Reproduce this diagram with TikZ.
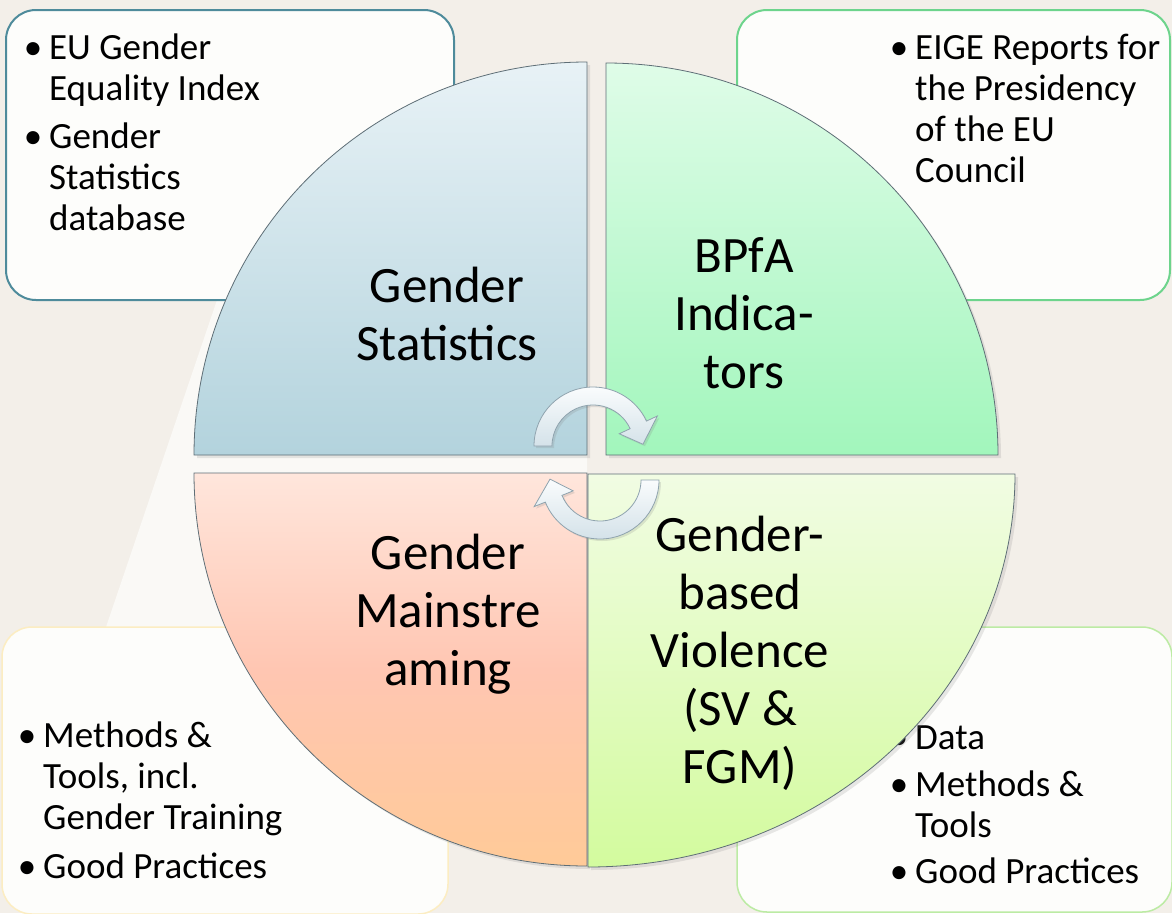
\documentclass[tikz,border=0pt]{standalone}
\usepackage{fontspec}
\setmainfont{Carlito}
\usetikzlibrary{shadows}

\definecolor{bg}{HTML}{F3EFE9}
\definecolor{bgband}{HTML}{FAF9F6}
\definecolor{boxfill}{HTML}{FDFDFB}
\definecolor{tealline}{HTML}{4E8B9B}
\definecolor{mintline}{HTML}{6DD48C}
\definecolor{sandline}{HTML}{FCEDC2}
\definecolor{limeline}{HTML}{BCEBA4}
\definecolor{statstop}{HTML}{E8F2F6}
\definecolor{statsbot}{HTML}{B3D3DD}
\definecolor{bpfatop}{HTML}{DFFCE8}
\definecolor{bpfabot}{HTML}{A2F6BC}
\definecolor{gmtop}{HTML}{FFE6DC}
\definecolor{gmmid}{HTML}{FFC6B2}
\definecolor{gmbot}{HTML}{FFCA98}
\definecolor{gbvtop}{HTML}{F1FCE3}
\definecolor{gbvbot}{HTML}{D3FB9E}
\definecolor{quadline}{HTML}{5E6E76}
\definecolor{arrowtop}{HTML}{FAFCFD}
\definecolor{arrowbot}{HTML}{D4E2E9}
\definecolor{arrowline}{HTML}{8FA3AE}

\newcommand{\itembul}{\llap{\makebox[0pt][c]{•}\hspace{16pt}}}

\tikzset{
  infobox/.style={fill=boxfill, rounded corners=30pt, line width=2pt},
  listtext/.style={inner sep=0pt, anchor=base west, align=left, font=\fontsize{37}{41}\selectfont},
  quadlabel/.style={inner sep=0pt, anchor=base, align=center, font=\fontsize{51}{58}\selectfont},
  quadrant/.style={draw=quadline, line width=0.8pt,
    drop shadow={shadow xshift=3pt, shadow yshift=-3pt, opacity=0.18}},
  turnarrow/.style={draw=arrowline, line width=0.8pt, top color=arrowtop, bottom color=arrowbot,
    drop shadow={shadow xshift=2pt, shadow yshift=-2pt, opacity=0.2}}
}

\begin{document}
\begin{tikzpicture}[x=1pt, y=-1pt]
  % page and background
  \fill[bg] (0,0) rectangle (1172,913);
  \useasboundingbox (0,0) rectangle (1172,913);
  \fill[bgband] (217,300) -- (587,300) -- (587,630) -- (105,630) -- cycle;

  % side boxes (text nodes sit on their last baseline)
  \draw[infobox, draw=tealline] (6,10) rectangle (454,300);
  \draw[infobox, draw=mintline] (737,10) rectangle (1170,300);
  \draw[infobox, draw=sandline, line width=1.5pt] (2,627) rectangle (448,914);
  \draw[infobox, draw=limeline, line width=1.5pt] (737,627) rectangle (1172,912);

  \node[listtext] (statslist) at (49,230) {\itembul EU Gender\\ Equality Index\\[7pt] \itembul Gender\\ Statistics\\ database};
  \node[listtext] (bpfalist) at (915,182) {\itembul EIGE Reports for\\ the Presidency\\ of the EU\\ Council};
  \node[listtext] (mainstrlist) at (43,878) {\itembul Methods \&\\ Tools, incl.\\ Gender Training\\[8pt] \itembul Good Practices};
  \node[listtext] (gbvlist) at (915,883) {\itembul Data\\[6pt] \itembul Methods \&\\ Tools\\[5pt] \itembul Good Practices};

  % four quarters
  \path[quadrant, top color=statstop, bottom color=statsbot]
    (587,455) -- (194,455) arc[start angle=180, end angle=270, radius=393] -- cycle;
  \path[quadrant, top color=bpfatop, bottom color=bpfabot]
    (606,455) -- (606,63) arc[start angle=270, end angle=360, radius=392] -- cycle;
  \path[quadrant, top color=gmtop, bottom color=gmbot, middle color=gmmid]
    (587,473) -- (587,866) arc[start angle=90, end angle=180, radius=393] -- cycle;
  \path[quadrant, top color=gbvtop, bottom color=gbvbot]
    (588,474) -- (1015,474) arc[start angle=0, end angle=90, x radius=427, y radius=393] -- cycle;

  \node[quadlabel] (stats) at (447,360) {Gender\\Statistics};
  \node[quadlabel] (bpfa) at (744,388) {BPfA\\Indica-\\tors};
  \node[quadlabel] (mainstr) at (448,685) {Gender\\Mainstre\\aming};
  \node[quadlabel] (gbv) at (740,783) {Gender-\\based\\Violence\\(SV \&\\FGM)};

  % turning arrows
  \coordinate (upturn) at (593,446);
  \coordinate (downturn) at (600,480);
  \path[turnarrow] ([shift={(upturn)}]180:59) arc[start angle=180, end angle=335, radius=59]
    -- ([shift={(upturn)}]335:71) -- ([shift={(upturn)}]358:50) -- ([shift={(upturn)}]335:29)
    -- ([shift={(upturn)}]335:41) arc[start angle=335, end angle=180, radius=41] -- cycle;
  \path[turnarrow] ([shift={(downturn)}]0:59) arc[start angle=0, end angle=158, radius=59]
    -- ([shift={(downturn)}]158:71) -- ([shift={(downturn)}]181:50) -- ([shift={(downturn)}]158:29)
    -- ([shift={(downturn)}]158:41) arc[start angle=158, end angle=0, radius=41] -- cycle;
\end{tikzpicture}
\end{document}
